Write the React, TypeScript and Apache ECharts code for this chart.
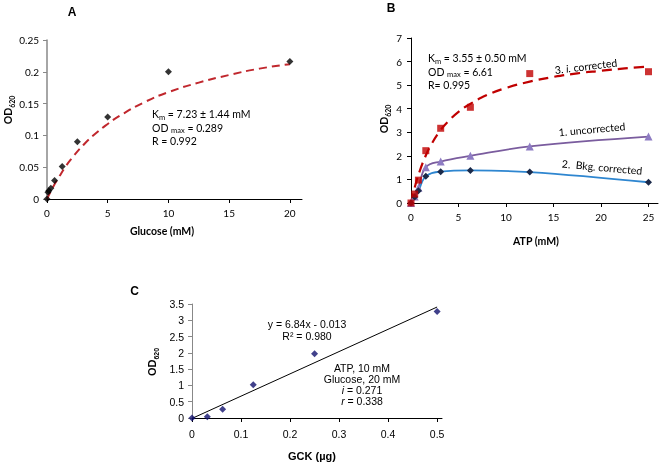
import React, { useEffect, useRef } from "react";
import * as echarts from "echarts";

// ---------- Panel A ----------
const glucoseMM = [0, 0.078, 0.156, 0.3125, 0.625, 1.25, 2.5, 5, 10, 20];
const odGlucose = [0, 0.0105, 0.013, 0.017, 0.029, 0.051, 0.09, 0.129, 0.2, 0.216];
const fitAx = [0, 0.5, 1, 1.5, 2, 3, 4, 5, 6, 8, 10, 12.5, 15, 17.5, 20];
const fitAy = [0, 0.019, 0.035, 0.05, 0.063, 0.085, 0.103, 0.118, 0.131, 0.152, 0.168, 0.183, 0.195, 0.205, 0.212];

// ---------- Panel B ----------
const atpMM = [0, 0.39, 0.78, 1.56, 3.125, 6.25, 12.5, 25];
const odCorrected = [0, 0.38, 0.97, 2.22, 3.17, 4.06, 5.49, 5.57];
const odUncorrected = [0, 0.28, 0.65, 1.52, 1.76, 2.0, 2.4, 2.82];
const odBkg = [0, 0.25, 0.52, 1.13, 1.33, 1.38, 1.31, 0.88];
const fitBx = [0, 0.5, 1, 1.5, 2, 3, 4, 5, 6, 8, 10, 12.5, 15, 17.5, 20, 22.5, 25];
const fitBy = [0, 0.82, 1.45, 1.96, 2.38, 3.03, 3.5, 3.87, 4.15, 4.58, 4.88, 5.15, 5.35, 5.5, 5.61, 5.71, 5.79];

// ---------- Panel C ----------
const gckUg = [0, 0.03125, 0.0625, 0.125, 0.25, 0.5];
const odGck = [0, 0.04, 0.27, 1.02, 1.97, 3.27];
const trendX = [0, 0.5];
const trendY = [-0.013, 3.407];

const zip = (xs: number[], ys: number[]) => xs.map((x, i) => [x, ys[i]]);

const CAL = "Lato, 'Open Sans', sans-serif";
const ARIAL = "'Liberation Sans', Arial, sans-serif";

function axisX(grid: number, max: number, interval: number, font: string, fs: number, margin: number, lineColor = "#000") {
  return {
    gridIndex: grid,
    type: "value",
    min: 0,
    max,
    interval,
    axisLine: { show: true, onZero: false, lineStyle: { color: lineColor, width: 1 } },
    axisTick: { show: true, length: 4, lineStyle: { color: lineColor } },
    axisLabel: { margin, fontSize: fs, fontFamily: font, color: "#000", showMaxLabel: false },
    splitLine: { show: false },
  };
}
function axisY(grid: number, max: number, interval: number, font: string, fs: number, margin: number, lineColor: string, width: number) {
  return {
    gridIndex: grid,
    type: "value",
    min: 0,
    max,
    interval,
    axisLine: { show: true, lineStyle: { color: lineColor, width } },
    axisTick: { show: true, length: 4, lineStyle: { color: lineColor } },
    axisLabel: { margin, fontSize: fs, fontFamily: font, color: "#000" },
    splitLine: { show: false },
  };
}

function txt(x: number, y: number, text: string, opts: any = {}) {
  const { rotation = 0, align = "center", rich, fontSize = 11, fontFamily = CAL, fontWeight = "normal", fontStyle = "normal", lineHeight } = opts;
  return {
    type: "text",
    x,
    y,
    rotation,
    silent: true,
    style: {
      text,
      align,
      verticalAlign: "middle",
      fill: "#000",
      fontSize,
      fontFamily,
      fontWeight,
      fontStyle,
      lineHeight,
      rich,
    },
  };
}

function subRich(font: string, main: number, sub: number, bold = false) {
  const fw = bold ? "bold" : "normal";
  return {
    n: { fontSize: main, fontFamily: font, fontWeight: fw, fill: "#000", lineHeight: main + 2, verticalAlign: "top" },
    s: { fontSize: sub, fontFamily: font, fontWeight: fw, fill: "#000", lineHeight: sub + 1, verticalAlign: "bottom" },
    it: { fontSize: main, fontFamily: font, fontStyle: "italic", fill: "#000", lineHeight: main + 2, verticalAlign: "top" },
  };
}

const richC = {
  n: { fontSize: 10.5, fontFamily: ARIAL, fill: "#000", lineHeight: 11 },
  it: { fontSize: 10.5, fontFamily: ARIAL, fontStyle: "italic", fill: "#000", lineHeight: 11 },
};

const option: any = {
  animation: false,
  textStyle: { fontFamily: CAL },
  grid: [
    { left: 47, top: 40, width: 255, height: 159 },
    { left: 411, top: 38, width: 247, height: 165 },
    { left: 192, top: 304, width: 250, height: 114 },
  ],
  xAxis: [
    axisX(0, 21, 5, CAL, 10, 9),
    axisX(1, 26, 5, CAL, 10, 9),
    axisX(2, 0.51, 0.1, ARIAL, 10.5, 10),
  ],
  yAxis: [
    axisY(0, 0.25, 0.05, CAL, 10, 8, "#888", 1.5),
    axisY(1, 7, 1, CAL, 10, 9, "#000", 1),
    axisY(2, 3.5, 0.5, ARIAL, 10.5, 8, "#888", 1),
  ],
  series: [
    // A
    {
      type: "line", xAxisIndex: 0, yAxisIndex: 0, data: zip(fitAx, fitAy), smooth: true, showSymbol: false,
      lineStyle: { color: "#C0272D", width: 2, type: [8, 5] }, z: 2,
    },
    {
      type: "scatter", xAxisIndex: 0, yAxisIndex: 0, data: zip(glucoseMM, odGlucose), symbol: "diamond", symbolSize: 7,
      itemStyle: { color: "#000" }, z: 3,
    },
    // B
    {
      type: "line", xAxisIndex: 1, yAxisIndex: 1, data: zip(fitBx, fitBy), smooth: true, showSymbol: false,
      lineStyle: { color: "#C00000", width: 2.2, type: [10, 6] }, z: 2,
    },
    {
      type: "scatter", xAxisIndex: 1, yAxisIndex: 1, data: zip(atpMM, odCorrected), symbol: "rect", symbolSize: 7,
      itemStyle: { color: "#C00000" }, z: 4,
    },
    {
      type: "line", xAxisIndex: 1, yAxisIndex: 1, data: zip(atpMM, odUncorrected), smooth: 0.4, symbol: "triangle", symbolSize: 8,
      showAllSymbol: true,
      itemStyle: { color: "#8E7CC3" }, lineStyle: { color: "#7A5C9E", width: 1.8 }, z: 3,
    },
    {
      type: "line", xAxisIndex: 1, yAxisIndex: 1, data: zip(atpMM, odBkg), smooth: 0.4, symbol: "diamond", symbolSize: 7,
      showAllSymbol: true,
      itemStyle: { color: "#1B2A4A" }, lineStyle: { color: "#2E86D0", width: 1.8 }, z: 3,
    },
    // C
    {
      type: "line", xAxisIndex: 2, yAxisIndex: 2, data: zip(trendX, trendY), showSymbol: false,
      lineStyle: { color: "#000", width: 1 }, z: 2,
    },
    {
      type: "scatter", xAxisIndex: 2, yAxisIndex: 2, data: zip(gckUg, odGck), symbol: "diamond", symbolSize: 7,
      itemStyle: { color: "#12126E" }, z: 3,
    },
  ],
  graphic: [
    // panel letters
    txt(72, 12, "A", { fontSize: 12, fontWeight: "bold", fontFamily: ARIAL }),
    txt(391, 8, "B", { fontSize: 12, fontWeight: "bold", fontFamily: ARIAL }),
    txt(134.5, 291, "C", { fontSize: 12, fontWeight: "bold", fontFamily: ARIAL }),
    // axis titles
    txt(162, 231, "Glucose (mM)", { fontSize: 10.5, fontWeight: "bold" }),
    txt(536, 241, "ATP (mM)", { fontSize: 10.5, fontWeight: "bold" }),
    txt(312, 456, "GCK (µg)", { fontSize: 11, fontWeight: "bold", fontFamily: ARIAL }),
    txt(9, 110, "{n|OD}{s|620}", { rotation: Math.PI / 2, rich: subRich(CAL, 10.5, 7, true) }),
    txt(385, 119, "{n|OD}{s|620}", { rotation: Math.PI / 2, rich: subRich(CAL, 10.5, 7, true) }),
    txt(153, 362, "{n|OD}{s|620}", { rotation: Math.PI / 2, rich: subRich(ARIAL, 11, 7, true) }),
    // A annotations
    txt(152, 115, "{n|K}{s|m}{n| = 7.23 ± 1.44 mM}", { align: "left", rich: subRich(CAL, 10.5, 7.5) }),
    txt(152, 128.5, "{n|OD }{s|max}{n| = 0.289}", { align: "left", rich: subRich(CAL, 10.5, 7.5) }),
    txt(152, 142, "{n|R = 0.992}", { align: "left", rich: subRich(CAL, 10.5, 7.5) }),
    // B annotations
    txt(428, 59, "{n|K}{s|m}{n| = 3.55 ± 0.50 mM}", { align: "left", rich: subRich(CAL, 10.5, 7.5) }),
    txt(428, 72.5, "{n|OD }{s|max}{n| = 6.61}", { align: "left", rich: subRich(CAL, 10.5, 7.5) }),
    txt(428, 86, "{n|R= 0.995}", { align: "left", rich: subRich(CAL, 10.5, 7.5) }),
    txt(586, 67, "{n|3. }{it|i.}{n| corrected}", { rotation: 0.12, rich: subRich(CAL, 10.5, 7.5) }),
    txt(592, 130, "{n|1. uncorrected}", { rotation: 0.09, rich: subRich(CAL, 10.5, 7.5) }),
    txt(602, 168, "{n|2.  Bkg. corrected}", { rotation: -0.09, rich: subRich(CAL, 10.5, 7.5) }),
    // C annotations
    txt(307, 324, "y = 6.84x - 0.013", { fontSize: 10.5, fontFamily: ARIAL, lineHeight: 11 }),
    txt(307, 336, "R² = 0.980", { fontSize: 10.5, fontFamily: ARIAL, lineHeight: 11 }),
    txt(362, 368, "ATP, 10 mM", { fontSize: 10.5, fontFamily: ARIAL, lineHeight: 11 }),
    txt(362, 379, "Glucose, 20 mM", { fontSize: 10.5, fontFamily: ARIAL, lineHeight: 11 }),
    txt(362, 390, "{it|i}{n| = 0.271}", { rich: richC, fontFamily: ARIAL, fontSize: 10.5, lineHeight: 11 }),
    txt(362, 401, "{it|r}{n| = 0.338}", { rich: richC, fontFamily: ARIAL, fontSize: 10.5, lineHeight: 11 }),
  ],
};

export default function App() {
  const ref = useRef<HTMLDivElement>(null);
  useEffect(() => {
    const chart = echarts.init(ref.current!, null, { renderer: "svg" });
    chart.setOption(option);
    return () => chart.dispose();
  }, []);
  return <div ref={ref} style={{ position: "fixed", left: 0, top: 0, width: 662, height: 465 }} />;
}
